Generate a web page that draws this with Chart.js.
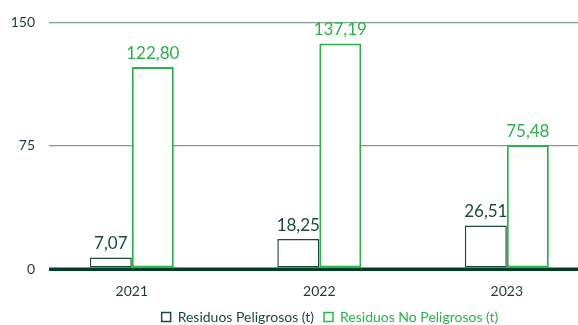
<!DOCTYPE html>
<html lang="es">

<head>
    <meta charset="UTF-8">
    <title>Residuos</title>
    <script src="https://cdn.jsdelivr.net/npm/chart.js"></script>
    <style>
        html, body { margin: 0; padding: 0; background: #fff; }
        .grafico { width: 578px; height: 325px; }
    </style>
</head>

<body>
    <div class="grafico">
        <canvas id="myChart"></canvas>
    </div>

<script>
    // datos
    var anos = ['2021', '2022', '2023'];
    var peligrosos = [7.07, 18.25, 26.51];
    var noPeligrosos = [122.80, 137.19, 75.48];
    var ticksY = [0, 75, 150];

    var verdeOscuro = '#1d4a35';
    var verde = '#2bb24c';
    var lineaCero = '#003f24';
    var fuente = 'Lato, "Noto Sans", sans-serif';

    function formato(v) {
        return v.toFixed(2).replace('.', ',');
    }

    // etiquetas encima de las barras + linea del cero encima de todo
    const etiquetas = {
        id: 'etiquetas',
        afterLayout(chart) {
            // la leyenda del original esta algo desplazada a la derecha
            chart.legend.left += 41;
            chart.legend.right += 41;
        },
        afterDatasetsDraw(chart) {
            const ctx = chart.ctx;
            ctx.save();
            chart.data.datasets.forEach(function (ds, i) {
                chart.getDatasetMeta(i).data.forEach(function (bar, j) {
                    ctx.fillStyle = ds.borderColor;
                    ctx.font = '17px ' + fuente;
                    ctx.textAlign = 'center';
                    ctx.textBaseline = 'bottom';
                    ctx.fillText(formato(ds.data[j].y), bar.x, bar.y - 5);
                });
            });
            const y0 = chart.scales.y.getPixelForValue(0);
            ctx.strokeStyle = lineaCero;
            ctx.lineWidth = 3;
            ctx.beginPath();
            ctx.moveTo(chart.chartArea.left, y0);
            ctx.lineTo(chart.chartArea.right, y0);
            ctx.stroke();
            ctx.restore();
        }
    };

    let dados = {
        datasets: [{
            label: 'Residuos Peligrosos (t)',
            data: peligrosos.map(function (v, i) { return { x: i, y: v }; }),
            backgroundColor: '#ffffff',
            borderColor: verdeOscuro,
            borderWidth: 1.5,
            borderSkipped: false,
            categoryPercentage: 0.448,
            barPercentage: 1
        }, {
            label: 'Residuos No Peligrosos (t)',
            data: noPeligrosos.map(function (v, i) { return { x: i, y: v }; }),
            backgroundColor: '#ffffff',
            borderColor: verde,
            borderWidth: 2,
            borderSkipped: false,
            categoryPercentage: 0.448,
            barPercentage: 1
        }]
    };

    const config = {
        type: 'bar',
        data: dados,
        plugins: [etiquetas],
        options: {
            responsive: true,
            maintainAspectRatio: false,
            animation: false,
            layout: { padding: { top: 8, right: 0, left: 0, bottom: -9 } },
            scales: {
                x: {
                    type: 'linear',
                    offset: false,
                    min: -0.4416,
                    max: 2.3797,
                    grid: { display: false, drawTicks: false },
                    border: { display: false },
                    afterBuildTicks: function (scale) {
                        scale.ticks = anos.map(function (a, i) { return { value: i }; });
                    },
                    afterFit: function (scale) { scale.height = 31; },
                    ticks: {
                        color: '#1f3a2d',
                        font: { family: fuente, size: 14 },
                        padding: 14,
                        callback: function (v) { return anos[v]; }
                    }
                },
                y: {
                    min: 0,
                    max: 150,
                    afterBuildTicks: function (scale) {
                        scale.ticks = ticksY.map(function (v) { return { value: v }; });
                    },
                    afterFit: function (scale) { scale.width = 49; },
                    border: { display: false },
                    grid: {
                        color: function (c) { return c.tick.value === 0 ? lineaCero : '#7d9c8b'; },
                        lineWidth: function (c) { return c.tick.value === 0 ? 3 : 1.2; },
                        drawTicks: false
                    },
                    ticks: {
                        color: '#1f3a2d',
                        font: { family: fuente, size: 14 },
                        padding: 14
                    }
                }
            },
            plugins: {
                tooltip: { enabled: false },
                legend: {
                    position: 'bottom',
                    labels: {
                        boxWidth: 9,
                        boxHeight: 9,
                        padding: 10,
                        font: { family: fuente, size: 14 },
                        generateLabels: function (chart) {
                            return chart.data.datasets.map(function (ds, i) {
                                return {
                                    text: ds.label,
                                    fillStyle: '#ffffff',
                                    strokeStyle: ds.borderColor,
                                    lineWidth: 1.5,
                                    fontColor: ds.borderColor,
                                    datasetIndex: i
                                };
                            });
                        }
                    }
                }
            }
        }
    };

    let myChart = new Chart(document.getElementById('myChart'), config);
</script>
</body>

</html>
